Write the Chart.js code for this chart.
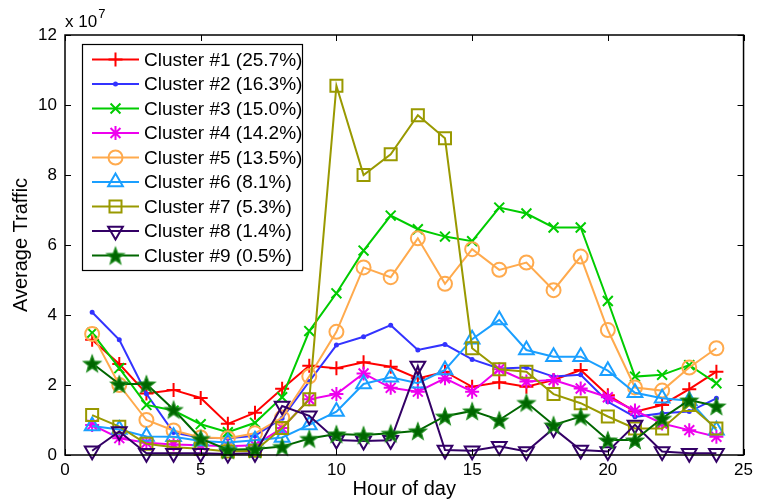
<!DOCTYPE html>
<html>
<head>
<meta charset="utf-8">
<script src="https://cdn.jsdelivr.net/npm/chart.js@4/dist/chart.umd.min.js"></script>
<style>
html,body{margin:0;padding:0;background:#fff;}
#wrap{width:758px;height:503px;position:relative;}
</style>
</head>
<body>
<div id="wrap"><canvas id="c" width="758" height="503"></canvas></div>
<script>
// ---- data (Average Traffic, units of 10^7) ----
const hours = [1,2,3,4,5,6,7,8,9,10,11,12,13,14,15,16,17,18,19,20,21,22,23,24];
const clusterNames = ["Cluster #1 (25.7%)","Cluster #2 (16.3%)","Cluster #3 (15.0%)","Cluster #4 (14.2%)","Cluster #5 (13.5%)","Cluster #6 (8.1%)","Cluster #7 (5.3%)","Cluster #8 (1.4%)","Cluster #9 (0.5%)"];
const cluster1 = [3.29,2.60,1.76,1.86,1.63,0.89,1.21,1.89,2.55,2.48,2.65,2.52,2.19,2.38,1.95,2.08,1.95,2.14,2.43,1.71,1.24,1.43,1.88,2.38];
const cluster2 = [4.08,3.29,1.75,0.64,0.49,0.48,0.55,1.05,2.10,3.14,3.38,3.71,3.00,3.16,2.73,2.47,2.50,2.24,2.29,1.52,1.09,1.19,1.24,1.62];
const cluster3 = [3.49,2.48,1.43,1.27,0.88,0.65,0.92,1.65,3.54,4.62,5.84,6.84,6.45,6.24,6.11,7.07,6.90,6.50,6.50,4.40,2.24,2.29,2.57,2.05];
const cluster4 = [0.86,0.48,0.35,0.30,0.28,0.25,0.28,0.77,1.59,1.74,2.33,1.92,1.81,2.19,1.81,2.45,2.10,2.14,1.90,1.65,1.27,0.90,0.71,0.52];
const cluster5 = [3.46,2.00,1.00,0.70,0.50,0.48,0.62,1.07,2.25,3.52,5.36,5.08,6.19,4.89,5.88,5.29,5.50,4.71,5.67,3.57,1.93,1.84,2.50,3.05];
const cluster6 = [0.83,0.73,0.53,0.52,0.40,0.36,0.42,0.50,0.86,1.24,2.03,2.22,2.05,2.43,3.31,3.86,3.00,2.81,2.81,2.41,1.78,1.62,1.55,0.71];
const cluster7 = [1.14,0.81,0.32,0.22,0.18,0.10,0.12,0.77,1.59,10.55,8.00,8.59,9.71,9.05,3.05,2.45,2.38,1.74,1.48,1.10,0.76,0.76,1.43,0.76];
const cluster8 = [0.12,0.67,0.05,0.05,0.05,0.03,0.05,1.40,1.12,0.43,0.40,0.42,2.54,0.14,0.12,0.25,0.10,0.76,0.14,0.10,0.86,0.10,0.05,0.05];
const cluster9 = [2.62,2.03,2.03,1.30,0.47,0.15,0.17,0.24,0.47,0.60,0.57,0.62,0.69,1.11,1.26,1.00,1.50,0.86,1.10,0.43,0.43,1.05,1.57,1.40];
const xTicks = [0,5,10,15,20,25];
const yTicks = [0,2,4,6,8,10,12];
const xTitle = "Hour of day";
const yTitle = "Average Traffic";

// ---- styles ----
const colors = ['#ff0000','#3333ff','#00cc00','#ee00ee','#ffaa4d','#1a9fff','#999900','#330066','#006600'];
const FONT = "'Liberation Sans', Arial, Helvetica, sans-serif";

function makeStar(r, fill, stroke){
  const c = document.createElement('canvas');
  const s = Math.ceil(r*2+4);
  c.width = s; c.height = s;
  const g = c.getContext('2d');
  g.translate(s/2, s/2+1);
  g.beginPath();
  for(let i=0;i<10;i++){
    const rr = (i%2===0)? r : r*0.42;
    const a = -Math.PI/2 + i*Math.PI/5;
    const px = rr*Math.cos(a), py = rr*Math.sin(a);
    if(i===0) g.moveTo(px,py); else g.lineTo(px,py);
  }
  g.closePath();
  g.fillStyle = fill; g.fill();
  g.lineWidth = 1.2; g.strokeStyle = stroke; g.stroke();
  return c;
}
const starImg = makeStar(9, '#006600', '#1a8a1a');

const markerSpec = [
  {style:'cross', radius:7, rot:0, fill:'transparent'},
  {style:'circle', radius:1.5, rot:0, fill:colors[1]},
  {style:'crossRot', radius:7, rot:0, fill:'transparent'},
  {style:'star', radius:7, rot:0, fill:'transparent'},
  {style:'circle', radius:7, rot:0, fill:'transparent'},
  {style:'triangle', radius:8.5, rot:0, fill:'transparent'},
  {style:'rect', radius:8.5, rot:0, fill:'transparent'},
  {style:'triangle', radius:8.5, rot:180, fill:'transparent'},
  {style:starImg, radius:9, rot:0, fill:colors[8]},
];

const series = [cluster1,cluster2,cluster3,cluster4,cluster5,cluster6,cluster7,cluster8,cluster9];
const datasets = series.map((vals, i) => ({
  label: clusterNames[i],
  data: hours.map((h, k) => ({x: h, y: vals[k]})),
  borderColor: colors[i],
  backgroundColor: colors[i],
  borderWidth: 2,
  pointStyle: markerSpec[i].style,
  pointRadius: markerSpec[i].radius,
  pointRotation: markerSpec[i].rot,
  pointBorderColor: colors[i],
  pointBackgroundColor: markerSpec[i].fill,
  pointBorderWidth: 2,
  tension: 0,
  clip: false,
  order: -i
}));

function drawMarker(ctx, i, x, y){
  const sp = markerSpec[i];
  ctx.save();
  ctx.strokeStyle = colors[i];
  ctx.fillStyle = sp.fill;
  ctx.lineWidth = 2;
  if (Chart.helpers && Chart.helpers.drawPoint) {
    Chart.helpers.drawPoint(ctx, {pointStyle: sp.style, radius: sp.radius, rotation: sp.rot, borderWidth: 2}, x, y);
  } else if (typeof sp.style !== 'string') {
    ctx.drawImage(sp.style, x - sp.style.width/2, y - sp.style.height/2);
  }
  ctx.restore();
}

const decorPlugin = {
  id: 'decor',
  afterDatasetsDraw(chart){
    const ctx = chart.ctx;
    const a = chart.chartArea;
    const xs = chart.scales.x, ys = chart.scales.y;
    ctx.save();
    // box
    ctx.strokeStyle = '#000';
    ctx.lineWidth = 1.5;
    ctx.strokeRect(a.left, a.top, a.right - a.left, a.bottom - a.top);
    // inner ticks
    ctx.lineWidth = 1;
    const tl = 6;
    ctx.beginPath();
    xTicks.forEach(v => {
      const px = Math.round(xs.getPixelForValue(v)) + 0.5;
      ctx.moveTo(px, a.bottom); ctx.lineTo(px, a.bottom - tl);
      ctx.moveTo(px, a.top); ctx.lineTo(px, a.top + tl);
    });
    yTicks.forEach(v => {
      const py = Math.round(ys.getPixelForValue(v)) + 0.5;
      ctx.moveTo(a.left, py); ctx.lineTo(a.left + tl, py);
      ctx.moveTo(a.right, py); ctx.lineTo(a.right - tl, py);
    });
    ctx.stroke();
    // exponent label
    ctx.fillStyle = '#000';
    ctx.textBaseline = 'alphabetic';
    ctx.textAlign = 'left';
    ctx.font = '17px ' + FONT;
    ctx.fillText('x 10', a.left, 27);
    const w = ctx.measureText('x 10').width;
    ctx.font = '13px ' + FONT;
    ctx.fillText('7', a.left + w + 1, 18);

    // legend
    const lx = 82, ly = 44, lw = 220, lh = 226;
    ctx.fillStyle = '#fff';
    ctx.fillRect(lx, ly, lw, lh);
    ctx.strokeStyle = '#000';
    ctx.lineWidth = 1.2;
    ctx.strokeRect(lx + 0.5, ly + 0.5, lw, lh);
    const rowH = 24.5, firstY = 59.5;
    ctx.font = '19px ' + FONT;
    ctx.textBaseline = 'middle';
    for (let i = 0; i < clusterNames.length; i++) {
      const yy = firstY + i * rowH;
      ctx.strokeStyle = colors[i];
      ctx.lineWidth = 2;
      ctx.beginPath();
      ctx.moveTo(92, yy); ctx.lineTo(139, yy);
      ctx.stroke();
      drawMarker(ctx, i, 115.5, yy);
      ctx.fillStyle = '#000';
      ctx.fillText(clusterNames[i], 144, yy + 1);
    }
    ctx.restore();
  }
};

new Chart(document.getElementById('c'), {
  type: 'line',
  data: { datasets },
  options: {
    responsive: false,
    animation: false,
    devicePixelRatio: 1,
    layout: { padding: { top: 35, right: 13, left: 0, bottom: 0 } },
    plugins: { legend: { display: false }, tooltip: { enabled: false } },
    scales: {
      x: {
        type: 'linear', min: 0, max: 25,
        afterBuildTicks: s => { s.ticks = xTicks.map(v => ({value: v})); },
        afterFit: s => { s.height = 48; },
        grid: { display: false, drawTicks: false },
        border: { display: false },
        ticks: { color: '#000', font: { size: 17, family: FONT }, padding: 5, maxRotation: 0 },
        title: { display: true, text: xTitle, color: '#000', font: { size: 20, family: FONT }, padding: { top: 0, bottom: 2 } }
      },
      y: {
        type: 'linear', min: 0, max: 12,
        afterBuildTicks: s => { s.ticks = yTicks.map(v => ({value: v})); },
        afterFit: s => { s.width = 65; },
        grid: { display: false, drawTicks: false },
        border: { display: false },
        ticks: { color: '#000', font: { size: 17, family: FONT }, padding: 8 },
        title: { display: true, text: yTitle, color: '#000', font: { size: 20, family: FONT }, padding: { top: 9, bottom: 0 } }
      }
    }
  },
  plugins: [decorPlugin]
});
</script>
</body>
</html>
